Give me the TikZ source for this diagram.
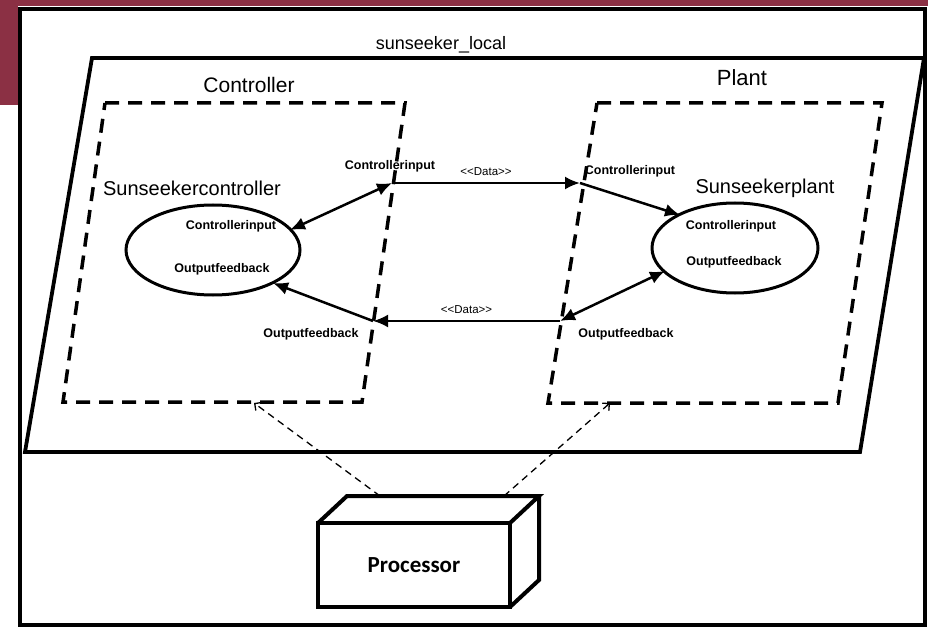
\documentclass[tikz,border=0pt]{standalone}
\usepackage{fontspec}
\setmainfont{Liberation Sans}
\newfontfamily\procfont{Carlito}
\usetikzlibrary{shapes.geometric, arrows.meta}
\definecolor{bandred}{RGB}{139,48,68}
\tikzstyle{compbox}=[line width=3.5pt,dash pattern=on 14pt off 9pt]
\tikzstyle{part}=[shape=ellipse,draw,line width=3pt,minimum width=174pt,minimum height=90pt,inner sep=0]
\tikzstyle{bigtext}=[font=\fontsize{21}{23}\selectfont,inner sep=0]
\tikzstyle{nametext}=[font=\fontsize{20}{22}\selectfont,inner sep=0]
\tikzstyle{porttext}=[font=\bfseries\fontsize{12.5}{14}\selectfont,inner sep=0]
\tikzstyle{datatext}=[font=\fontsize{11.5}{13}\selectfont,inner sep=0]
\tikzstyle{flow}=[line width=2.5pt,-{Latex[length=15pt,width=13pt]}]
\tikzstyle{flow2}=[line width=2.5pt,{Latex[length=15pt,width=13pt]}-{Latex[length=15pt,width=13pt]}]
\tikzstyle{deploy}=[line width=1.3pt,dash pattern=on 7pt off 5pt,-{Straight Barb[length=5pt,width=10pt]}]

\begin{document}
\begin{tikzpicture}[x=1pt,y=-1pt]
\useasboundingbox (0,0) rectangle (928,628);
\fill[bandred] (0,0) rectangle (928,6);
\fill[bandred] (0,0) rectangle (18,105);
\draw[line width=4pt,fill=white] (20,9) rectangle (925,625);

% deployment node
\draw[line width=3.8pt,line join=miter] (92,58) -- (924,58) -- (860,452) -- (25,452) -- cycle;
\node[bigtext,font=\fontsize{18}{20}\selectfont] (title) at (441,45) {sunseeker\_local};

% components
\draw[compbox] (105,103) -- (405,103) -- (362,402) -- (63,402) -- cycle;
\draw[compbox] (597,103) -- (882,103) -- (838,403) -- (548,403) -- cycle;
\node[bigtext] (ctltitle) at (249,85) {Controller};
\node[bigtext,font=\fontsize{22}{24}\selectfont] (planttitle) at (742,78) {Plant};

% parts
\node[part] (sctl) at (213,250) {};
\node[part,minimum width=166pt] (splant) at (735,248) {};
\node[nametext] (sctlname) at (192,188) {Sunseekercontroller};
\node[nametext] (splantname) at (765,188) {Sunseekerplant};
\node[porttext] (sctlin) at (231,226) {Controllerinput};
\node[porttext] (sctlfb) at (222,269) {Outputfeedback};
\node[porttext] (splantin) at (731,226) {Controllerinput};
\node[porttext] (splantfb) at (734,262) {Outputfeedback};

% ports
\coordinate (cinL) at (392,183);
\coordinate (cinR) at (580,183);
\coordinate (foutR) at (560,321);
\coordinate (foutL) at (373,321);
\coordinate (ctlin) at (290,230);
\coordinate (ctlfb) at (273,283);
\coordinate (plantin) at (680,215);
\coordinate (plantfb) at (665,271);
\node[porttext] (cinLtext) at (390,166) {Controllerinput};
\node[porttext] (cinRtext) at (630,171) {Controllerinput};
\node[porttext] (foutLtext) at (311,334) {Outputfeedback};
\node[porttext] (foutRtext) at (626,334) {Outputfeedback};

% connectors
\draw[flow2] (cinL) -- (ctlin);
\draw[flow] (cinL) -- (cinR) node[datatext,midway,above=6pt] (topdata) {<{}<Data>{}>};
\draw[flow] (cinR) -- (plantin);
\draw[flow2] (foutR) -- (plantfb);
\draw[flow] (foutR) -- (foutL) node[datatext,midway,above=6pt] (botdata) {<{}<Data>{}>};
\draw[flow] (foutL) -- (ctlfb);

% processor
\node[draw,line width=4pt,outer sep=0,minimum width=192pt,minimum height=84pt,
  font=\procfont\bfseries\fontsize{23}{25}\selectfont] (proc) at (414,565) {Processor};
\draw[line width=4pt,line join=miter] (proc.north west) -- ++(29,-27) coordinate (bkl)
  -- ++(192,0) coordinate (bkr) -- (proc.north east) (bkr) -- ++(0,84) -- (proc.south east);
\coordinate (procL) at (380,496);
\coordinate (procR) at (504,496);
\coordinate (ctlfoot) at (254,403);
\coordinate (plantfoot) at (610,403);
\draw[deploy] (procL) -- (ctlfoot);
\draw[deploy] (procR) -- (plantfoot);
\end{tikzpicture}
\end{document}
